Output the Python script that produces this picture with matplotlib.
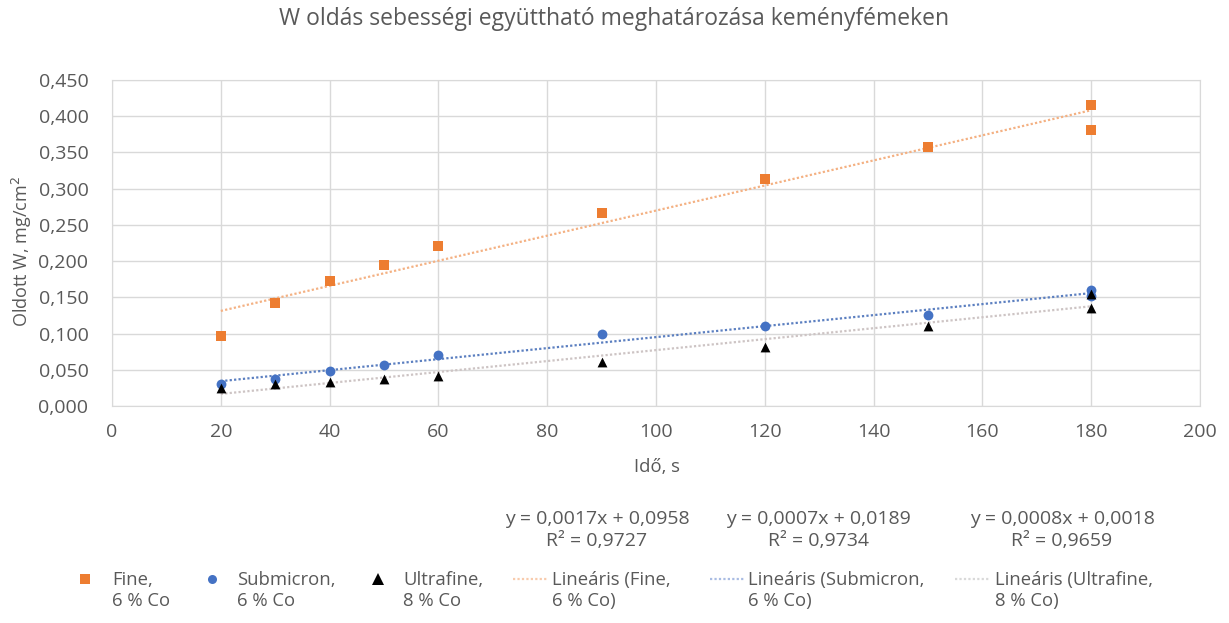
import numpy as np
import matplotlib
matplotlib.use("Agg")
import matplotlib.pyplot as plt
from matplotlib.ticker import FuncFormatter, MultipleLocator
from matplotlib.lines import Line2D

plt.rcParams['font.family'] = ['Open Sans', 'DejaVu Sans']

# Data
fine_x = [20, 30, 40, 50, 60, 90, 120, 150, 180, 180]
fine_y = [0.096, 0.142, 0.173, 0.194, 0.221, 0.266, 0.313, 0.357, 0.416, 0.381]
sub_x = [20, 30, 40, 50, 60, 90, 120, 150, 180, 180]
sub_y = [0.030, 0.037, 0.049, 0.057, 0.070, 0.100, 0.110, 0.125, 0.160, 0.152]
ultra_x = [20, 30, 40, 50, 60, 90, 120, 150, 180, 180]
ultra_y = [0.025, 0.031, 0.033, 0.037, 0.041, 0.061, 0.082, 0.111, 0.155, 0.135]

labels = ["Fine,\n6 % Co", "Submicron,\n6 % Co", "Ultrafine,\n8 % Co"]
trend_labels = ["Lineáris (Fine,\n6 % Co)", "Lineáris (Submicron,\n6 % Co)", "Lineáris (Ultrafine,\n8 % Co)"]
equations = ["y = 0,0017x + 0,0958\nR² = 0,9727", "y = 0,0007x + 0,0189\nR² = 0,9734", "y = 0,0008x + 0,0018\nR² = 0,9659"]
title = "W oldás sebességi együttható meghatározása keményfémeken"
xlabel = "Idő, s"
ylabel = "Oldott W, mg/cm$^2$"

text_c = "#595959"
colors = ["#ED7D31", "#4472C4", "#000000"]
trend_colors = ["#F4B183", "#5B7FC0", "#CDC4C4"]
legend_trend_colors = ["#F8CBAD", "#A9BCE3", "#D9D9D9"]
markers = ["s", "o", "^"]

W, H = 1229, 623
fig = plt.figure(figsize=(W / 100, H / 100), dpi=100)
ax = fig.add_axes([112 / W, 1 - 406 / H, (1200 - 112) / W, (406 - 80) / H])

series = [(fine_x, fine_y), (sub_x, sub_y), (ultra_x, ultra_y)]
for (xs, ys), c, m in zip(series, colors, markers):
    ax.scatter(xs, ys, marker=m, s=50, color=c, zorder=3, linewidths=0)
for (xs, ys), tc in zip(series, trend_colors):
    k, b = np.polyfit(xs, ys, 1)
    xx = np.array([min(xs), max(xs)])
    ax.plot(xx, k * xx + b, linestyle=(0, (1, 1)), color=tc, lw=1.6, zorder=2)

ax.set_xlim(0, 200)
ax.set_ylim(0, 0.45)
ax.xaxis.set_major_locator(MultipleLocator(20))
ax.yaxis.set_major_locator(MultipleLocator(0.05))
ax.yaxis.set_major_formatter(FuncFormatter(lambda v, p: f"{v:.3f}".replace(".", ",")))
ax.grid(True, color="#D9D9D9", lw=1)
ax.set_axisbelow(True)
for s in ax.spines.values():
    s.set_color("#D9D9D9")
ax.tick_params(length=0, labelsize=14, colors=text_c)
ax.tick_params(axis="x", pad=12)
ax.tick_params(axis="y", pad=17)

fig.text(0.5, 1 - 19 / H, title, ha="center", va="center", fontsize=16.5, color=text_c)
fig.text(657 / W, 1 - 467 / H, xlabel, ha="center", va="center", fontsize=13.3, color=text_c)
fig.text(22 / W, 1 - 251 / H, ylabel, ha="center", va="center", rotation=90, fontsize=13, color=text_c)

eq_x = [597, 818, 1062]
for ex, eq in zip(eq_x, equations):
    fig.text(ex / W, 1 - 530 / H, eq, ha="center", va="center", fontsize=14, color=text_c, linespacing=1.24)

# Legend (drawn manually to match layout)
row1 = 1 - 579 / H
mid = 1 - 590.5 / H
mk_x = [85, 212, 378]
mk_tx = [112, 237, 403]
mk_sizes = [7, 6.5, 8]
for x0, tx, c, m, ms, lab in zip(mk_x, mk_tx, colors, markers, mk_sizes, labels):
    fig.add_artist(Line2D([x0 / W], [row1], marker=m, color=c, markersize=ms, markeredgewidth=0,
                          linestyle="none", transform=fig.transFigure))
    fig.text(tx / W, mid, lab, ha="left", va="center", fontsize=13.3, color=text_c, linespacing=1.2)

ln_x = [(513, 548), (710, 744), (955, 990)]
ln_tx = [552, 748, 995]
for (a, b), tx, tc, lab in zip(ln_x, ln_tx, legend_trend_colors, trend_labels):
    fig.add_artist(Line2D([a / W, b / W], [row1, row1], linestyle=(0, (1, 1)), color=tc, lw=1.6,
                          transform=fig.transFigure))
    fig.text(tx / W, mid, lab, ha="left", va="center", fontsize=13.3, color=text_c, linespacing=1.2)

fig.savefig("out.png", dpi=100)
